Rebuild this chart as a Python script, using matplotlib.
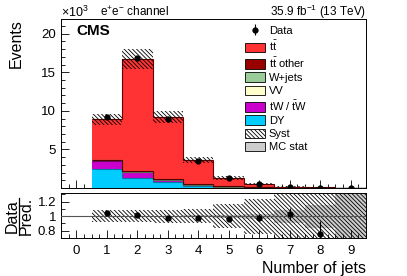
import numpy as np
import matplotlib
matplotlib.use("Agg")
import matplotlib.pyplot as plt
from matplotlib.lines import Line2D
from matplotlib.patches import Patch

plt.rcParams['font.family'] = ['Liberation Sans', 'DejaVu Sans']
plt.rcParams['mathtext.fontset'] = 'custom'
plt.rcParams['mathtext.rm'] = 'Liberation Sans'
plt.rcParams['mathtext.it'] = 'Liberation Sans:italic'
plt.rcParams['hatch.linewidth'] = 0.6

# --- data (events in units of 10^3) ---
njets = np.arange(1, 10)
edges = np.arange(0.5, 10.0, 1.0)

dy = [2.45, 1.25, 0.74, 0.22, 0.08, 0.03, 0.010, 0.005, 0.002]
tw = [1.10, 0.82, 0.28, 0.20, 0.08, 0.03, 0.010, 0.004, 0.002]
vv = [0.04, 0.03, 0.02, 0.010, 0.005, 0.002, 0.001, 0.0, 0.0]
wjets = [0.02, 0.02, 0.01, 0.005, 0.003, 0.001, 0.0, 0.0, 0.0]
tt_other = [0.03, 0.10, 0.10, 0.06, 0.03, 0.01, 0.005, 0.002, 0.001]
total = [8.90, 16.70, 9.20, 3.60, 1.30, 0.53, 0.15, 0.06, 0.02]
data = [9.25, 16.90, 9.00, 3.50, 1.25, 0.52, 0.155, 0.045, 0.005]

syst_rel = [0.08, 0.08, 0.09, 0.10, 0.17, 0.24, 0.30, 0.40, 0.45]
mcstat_rel = [0.005, 0.004, 0.006, 0.01, 0.02, 0.035, 0.09, 0.16, 0.30]
ratio_err = [0.01, 0.008, 0.01, 0.017, 0.03, 0.045, 0.08, 0.18, 0.1]

tt = [t - a - b - c - d - e for t, a, b, c, d, e in zip(total, dy, tw, vv, wjets, tt_other)]

components = [
    ("DY", dy, "#00ccff", "#0077aa"),
    ("tW / $\\bar{\\mathrm{t}}$W", tw, "#cc00cc", "#660066"),
    ("VV", vv, "#ffffcc", "#999966"),
    ("W+jets", wjets, "#99cc99", "#557755"),
    ("t$\\bar{\\mathrm{t}}$ other", tt_other, "#990000", "#550000"),
    ("t$\\bar{\\mathrm{t}}$", tt, "#ff3333", "#660000"),
]

HATCH = '\\' * 8

fig = plt.figure(figsize=(4.07, 2.76), dpi=100)
ax = fig.add_axes([0.150, 0.319, 0.749, 0.612])
rx = fig.add_axes([0.150, 0.138, 0.749, 0.163])

# stacked histograms
base = np.zeros(len(njets))
handles = {}
for name, vals, fc, ec in components:
    top = base + np.array(vals)
    ax.stairs(top, edges, baseline=base, fill=True, color=fc, zorder=2)
    ax.stairs(top, edges, baseline=None, color=ec, lw=0.8, zorder=3)
    handles[name] = Patch(facecolor=fc, edgecolor="black", lw=0.6)
    base = top

tot = np.array(total)
syst = tot * np.array(syst_rel)
ax.bar(njets, 2 * syst, bottom=tot - syst, width=1.0, fill=False, hatch=HATCH,
       lw=0, edgecolor="black", zorder=4)

eb = ax.errorbar(njets, data, yerr=np.sqrt(np.array(data) / 1000.0), fmt='o', color='black',
                 ms=3.5, lw=0.8, capsize=0, zorder=5)

ax.set_xlim(-0.5, 9.5)
ax.set_ylim(0, 21.9)
ax.set_yticks([5, 10, 15, 20])
ax.set_yticks(np.arange(1, 22, 1), minor=True)
ax.set_xticks(np.arange(0, 10))
ax.set_xticks(np.arange(-0.5, 9.6, 0.25), minor=True)
ax.tick_params(axis='both', which='both', direction='in', labelsize=9.5, width=0.6)
ax.tick_params(which='major', length=5.5)
ax.tick_params(which='minor', length=3)
ax.tick_params(axis='x', labelbottom=False)
for s in ax.spines.values():
    s.set_linewidth(0.7)
ax.set_ylabel("Events", fontsize=11.5, loc='top', labelpad=13)

syst_h = Patch(facecolor='white', edgecolor='black', hatch=HATCH, lw=0.6)
stat_h = Patch(facecolor='#cccccc', edgecolor='black', lw=0.6)
order = ["t$\\bar{\\mathrm{t}}$", "t$\\bar{\\mathrm{t}}$ other", "W+jets", "VV",
         "tW / $\\bar{\\mathrm{t}}$W", "DY"]
leg = ax.legend([eb] + [handles[n] for n in order] + [syst_h, stat_h],
                ["Data"] + order + ["Syst", "MC stat"],
                loc='upper left', bbox_to_anchor=(0.58, 1.0), frameon=False,
                fontsize=8, handlelength=1.8, handleheight=0.9, handletextpad=0.4,
                labelspacing=0.24, borderaxespad=0.2)

ax.text(0.05, 0.93, "CMS", transform=ax.transAxes, fontsize=11, fontweight='bold',
        va='center', ha='left')
fig.text(61 / 407, 1 - 12 / 276, "$\\times$10$^{3}$", fontsize=9, va='center', ha='left')
fig.text(100 / 407, 1 - 12 / 276, "e$^{+}$e$^{-}$ channel", fontsize=8.5, va='center', ha='left')
fig.text(366 / 407, 1 - 12 / 276, "35.9 fb$^{-1}$ (13 TeV)", fontsize=8.5, va='center', ha='right')

# ratio panel
ones = np.ones(len(njets))
rx.stairs(ones + np.array(mcstat_rel), edges, baseline=ones - np.array(mcstat_rel),
          fill=True, color='#cccccc', zorder=1)
rx.bar(njets, 2 * np.array(syst_rel), bottom=ones - np.array(syst_rel), width=1.0,
       fill=False, hatch=HATCH, lw=0, edgecolor='black', zorder=2)
rx.axhline(1.0, color='#555555', lw=0.8, zorder=3)
ratio = np.array(data) / tot
rx.errorbar(njets, ratio, yerr=ratio_err, fmt='o', color='black', ms=3.5, lw=0.8,
            capsize=0, zorder=5)
rx.set_xlim(-0.5, 9.5)
rx.set_ylim(0.7, 1.32)
rx.set_yticks([0.8, 1.0, 1.2])
rx.set_yticklabels(["0.8", "1", "1.2"])
rx.set_yticks(np.arange(0.7, 1.31, 0.1), minor=True)
rx.set_xticks(np.arange(0, 10))
rx.set_xticks(np.arange(-0.5, 9.6, 0.25), minor=True)
rx.tick_params(axis='both', which='both', direction='in', labelsize=9.5, width=0.6)
rx.tick_params(which='major', length=5.5)
rx.tick_params(which='minor', length=3)
rx.tick_params(axis='x', pad=5)
for s in rx.spines.values():
    s.set_linewidth(0.7)
rx.set_xlabel("Number of jets", fontsize=11.5, loc='right', labelpad=3)

fig.text(12 / 407, 1 - 216 / 276, "Data", rotation=90, fontsize=11.5, ha='center', va='center')
fig.text(26 / 407, 1 - 216 / 276, "Pred.", rotation=90, fontsize=11.5, ha='center', va='center')
fig.add_artist(Line2D([19 / 407, 19 / 407], [1 - 235 / 276, 1 - 198 / 276],
                      transform=fig.transFigure, color='black', lw=0.9))

fig.savefig("out.png", dpi=100)
